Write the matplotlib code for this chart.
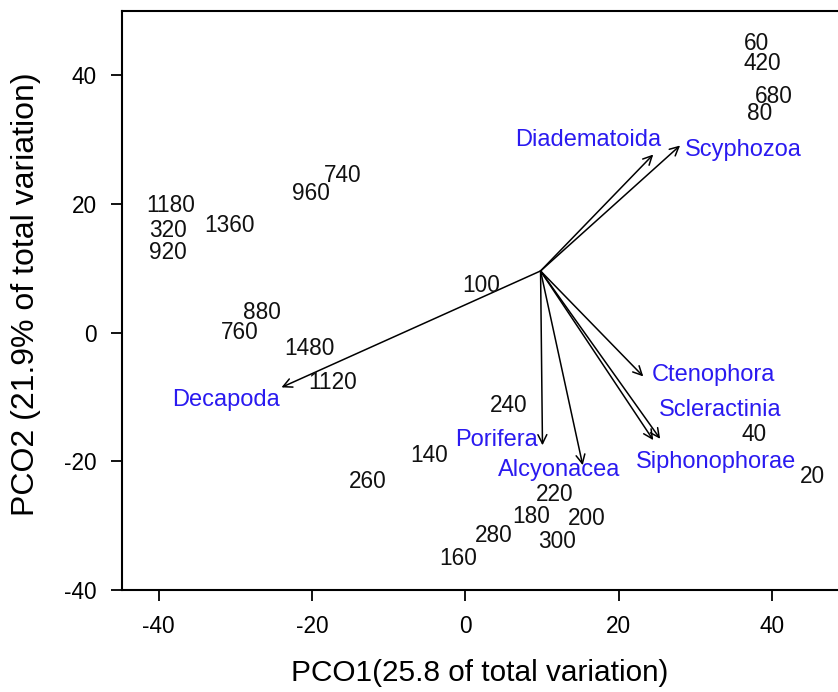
import matplotlib
matplotlib.use('Agg')
import matplotlib.pyplot as plt

plt.rcParams['font.family'] = ['Liberation Sans', 'DejaVu Sans']
plt.rcParams['axes.unicode_minus'] = False

# sample scores (depth labels)
samples = ['60', '420', '680', '80', '740', '960', '1180', '320', '920', '1360',
           '880', '760', '1480', '1120', '100', '240', '140', '260', '220', '180',
           '200', '280', '300', '160', '40', '20']
pco1 = [38.0, 38.7, 40.2, 38.4, -16.0, -20.1, -38.4, -38.8, -38.8, -30.8,
        -26.6, -29.5, -20.4, -17.3, 2.1, 5.7, -4.8, -12.7, 11.6, 8.6,
        15.8, 3.7, 11.9, -1.0, 37.7, 45.3]
pco2 = [45.0, 41.8, 36.7, 34.0, 24.4, 21.7, 19.7, 15.9, 12.4, 16.7,
        3.1, 0.0, -2.4, -7.8, 7.3, -11.3, -19.1, -23.2, -25.1, -28.6,
        -28.9, -31.5, -32.4, -35.1, -15.9, -22.4]

# taxa vectors
origin = (9.8, 9.6)
taxa = ['Diadematoida', 'Scyphozoa', 'Decapoda', 'Ctenophora', 'Scleractinia',
        'Porifera', 'Alcyonacea', 'Siphonophorae']
vec_x = [24.5, 28.0, -24.0, 23.2, 25.4, 10.05, 15.3, 24.5]
vec_y = [27.7, 29.1, -8.5, -6.8, -16.5, -17.5, -20.6, -16.7]
lab_x = [16.0, 36.3, -31.2, 32.4, 33.2, 4.0, 12.2, 32.7]
lab_y = [30.0, 28.4, -10.5, -6.5, -12.0, -16.7, -21.3, -20.1]

fig = plt.figure(figsize=(8.38, 6.92), dpi=100)
ax = fig.add_axes([0.1456, 0.1474, 0.8544, 0.8366])

for i in range(len(taxa)):
    ax.annotate('', xy=(vec_x[i], vec_y[i]), xytext=origin,
                arrowprops=dict(arrowstyle='->', color='black', lw=1.1,
                                mutation_scale=16, shrinkA=0, shrinkB=0))
    ax.text(lab_x[i], lab_y[i], taxa[i], color='#2a1af0', fontsize=17,
            ha='center', va='center')

for s, x, y in zip(samples, pco1, pco2):
    ax.text(x, y, s, fontsize=16.3, ha='center', va='center', color='#111111')

ax.set_xlim(-44.8, 48.6)
ax.set_ylim(-40, 50)
ax.set_xticks([-40, -20, 0, 20, 40])
ax.set_yticks([-40, -20, 0, 20, 40])
ax.spines['right'].set_visible(False)
for sp in ['left', 'bottom', 'top']:
    ax.spines[sp].set_linewidth(1.5)
ax.tick_params(direction='out', length=8, width=1.3, labelsize=16.3, pad=10)

ax.set_xlabel('PCO1(25.8 of total variation)', fontsize=21.4, labelpad=15)
ax.set_ylabel('PCO2 (21.9% of total variation)', fontsize=23)
ax.yaxis.set_label_coords(-0.113, 0.511)

fig.savefig('out.png', dpi=100)
